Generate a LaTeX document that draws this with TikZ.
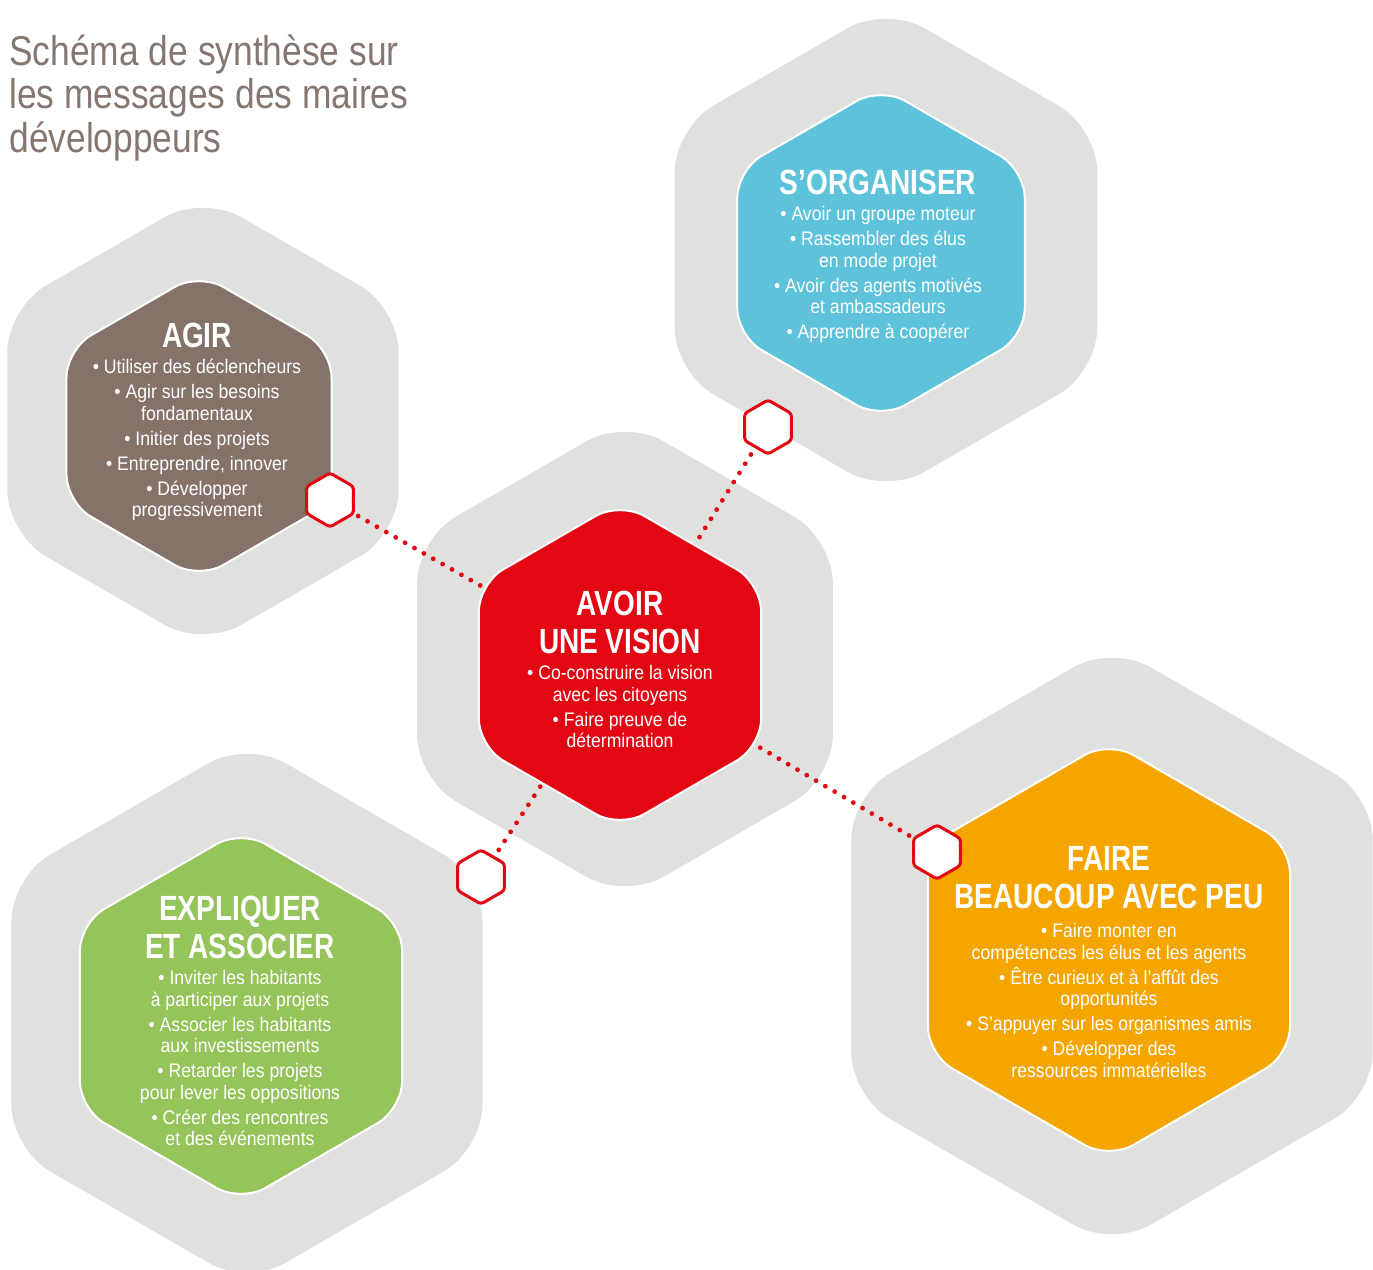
\documentclass[tikz,border=0pt]{standalone}
\usepackage{fontspec}
\setmainfont{Liberation Sans}
\newfontfamily\bodyfont{Liberation Sans}[FakeStretch=0.9]
\newfontfamily\titlefont{Liberation Sans}[FakeStretch=0.85]
\newfontfamily\headfont{Liberation Sans}[FakeStretch=0.8]
\definecolor{hexgray}{HTML}{E0E0DF}
\definecolor{hexbrown}{HTML}{85736A}
\definecolor{hexblue}{HTML}{5EC3DA}
\definecolor{hexred}{HTML}{E30613}
\definecolor{hexgreen}{HTML}{95C45A}
\definecolor{hexorange}{HTML}{F5A500}
\definecolor{titlegray}{HTML}{857770}
\newcommand\bodysize{\bodyfont\fontsize{9.8}{10.75}\selectfont\setlength{\lineskiplimit}{-5pt}\relax}
\newcommand\headsize{\headfont\bfseries\fontsize{17.5}{19}\selectfont\setlength{\lineskiplimit}{-5pt}\relax}
% #1 centre, #2 circumradius (px units), #3 corner radius, #4 style
\newcommand\drawhex[4]{%
  \path[#4, rounded corners=#3]
    ([shift={(0:{0.8660254*#2})}]#1)
    -- ([shift={(30:#2)}]#1) -- ([shift={(90:#2)}]#1) -- ([shift={(150:#2)}]#1)
    -- ([shift={(210:#2)}]#1) -- ([shift={(270:#2)}]#1) -- ([shift={(330:#2)}]#1)
    -- cycle;}
\begin{document}
\begin{tikzpicture}[x=0.5pt,y=-0.5pt,
  graybg/.style={fill=hexgray},
  colhex/.style={fill=#1, draw=white, line width=1pt},
  smallhex/.style={fill=white, draw=hexred, line width=1.5pt},
  dotline/.style={draw=hexred, line width=2.4pt, line cap=round, dash pattern=on 0pt off 5.4pt},
  head/.style={text=white, font=\headsize, align=center, anchor=north, inner sep=0pt},
  body/.style={text=white, font=\bodysize, align=center, anchor=north, inner sep=0pt},
  title/.style={text=titlegray, font=\titlefont\fontsize{20.8}{21.75}\selectfont, align=left, anchor=north west, inner sep=0pt}]
\clip (0,0) rectangle (1373,1270);
\fill[white] (0,0) rectangle (1373,1270);
\path[use as bounding box] (0,0) rectangle (1373,1270);
% centres
\coordinate (gA) at (203,421);  \coordinate (cA) at (199,426);
\coordinate (gO) at (886,250);  \coordinate (cO) at (881,253);
\coordinate (gV) at (625,659);  \coordinate (cV) at (620,665);
\coordinate (gE) at (247,1013); \coordinate (cE) at (241,1016);
\coordinate (gF) at (1112,946); \coordinate (cF) at (1109,950);
\coordinate (sA) at (330,500);
\coordinate (sO) at (768,427);
\coordinate (sE) at (481,877);
\coordinate (sF) at (937,852);
% grey backgrounds
\drawhex{gA}{226}{22pt}{graybg}
\drawhex{gO}{244}{22pt}{graybg}
\drawhex{gV}{240}{22pt}{graybg}
\drawhex{gE}{272}{22pt}{graybg}
\drawhex{gF}{301}{22pt}{graybg}
% dotted connectors
\draw[dotline] (sA) -- (cV);
\draw[dotline] (sO) -- (cV);
\draw[dotline] (sE) -- (cV);
\draw[dotline] (sF) -- (cV);
% coloured hexagons
\drawhex{cA}{153}{14pt}{colhex=hexbrown}
\drawhex{cO}{166}{14pt}{colhex=hexblue}
\drawhex{cV}{163}{14pt}{colhex=hexred}
\drawhex{cE}{186}{14pt}{colhex=hexgreen}
\drawhex{cF}{209}{14pt}{colhex=hexorange}
% small hexagons
\drawhex{sA}{27}{1.5pt}{smallhex}
\drawhex{sO}{27}{1.5pt}{smallhex}
\drawhex{sE}{27}{1.5pt}{smallhex}
\drawhex{sF}{27}{1.5pt}{smallhex}
% title
\node[title] (ttl) at (9,34) {Schéma de synthèse sur\\les messages des maires\\développeurs};
% AGIR
\node[head] (hA) at (197,323) {AGIR};
\node[body] (bA) at (197,359) {• Utiliser des déclencheurs\\[1.75pt]• Agir sur les besoins\\fondamentaux\\[1.75pt]• Initier des projets\\[1.75pt]• Entreprendre, innover\\[1.75pt]• Développer\\progressivement};
% S'ORGANISER
\node[head] (hO) at (878,170) {S’ORGANISER};
\node[body] (bO) at (878,206) {• Avoir un groupe moteur\\[1.75pt]• Rassembler des élus\\en mode projet\\[1.75pt]• Avoir des agents motivés\\et ambassadeurs\\[1.75pt]• Apprendre à coopérer};
% AVOIR UNE VISION
\node[head] (hV) at (620,591) {AVOIR\\UNE VISION};
\node[body] (bV) at (620,665) {• Co-construire la vision\\avec les citoyens\\[1.75pt]• Faire preuve de\\détermination};
% EXPLIQUER ET ASSOCIER
\node[head] (hE) at (240,896) {EXPLIQUER\\ET ASSOCIER};
\node[body] (bE) at (240,970) {• Inviter les habitants\\à participer aux projets\\[1.75pt]• Associer les habitants\\aux investissements\\[1.75pt]• Retarder les projets\\pour lever les oppositions\\[1.75pt]• Créer des rencontres\\et des événements};
% FAIRE BEAUCOUP AVEC PEU
\node[head] (hF) at (1109,846) {FAIRE\\BEAUCOUP AVEC PEU};
\node[body] (bF) at (1109,923) {• Faire monter en\\compétences les élus et les agents\\[1.75pt]• Être curieux et à l’affût des\\opportunités\\[1.75pt]• S’appuyer sur les organismes amis\\[1.75pt]• Développer des\\ressources immatérielles};
\end{tikzpicture}
\end{document}
